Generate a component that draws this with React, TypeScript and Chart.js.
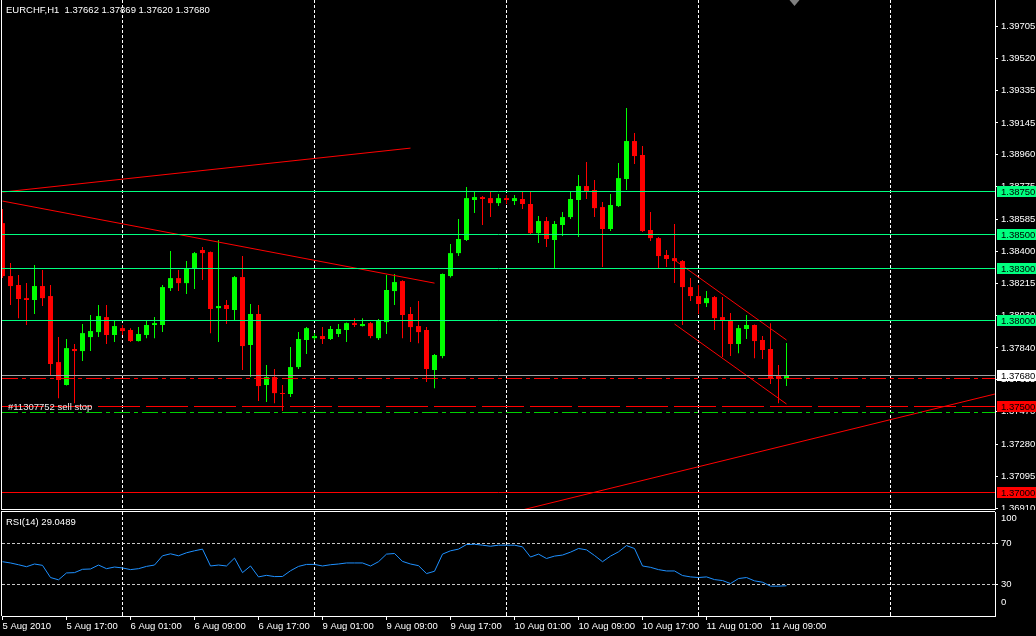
import React, { useEffect, useRef } from "react";
import { Chart, registerables } from "chart.js";

Chart.register(...registerables);

// ---------------- data ----------------
const symbol = "EURCHF";
const timeframe = "H1";

const opens = [
  1.38564, 1.38257, 1.38205, 1.38129, 1.38118, 1.38199, 1.38141, 1.37758, 1.37625, 1.37834,
  1.37822, 1.37903, 1.37932, 1.38019, 1.37915, 1.37955, 1.37944, 1.3788, 1.37915, 1.37973,
  1.37973, 1.38187, 1.38245, 1.38216, 1.38303, 1.38408, 1.38396, 1.38071, 1.38089, 1.3806,
  1.38251, 1.37857, 1.38037, 1.37625, 1.37671, 1.37578, 1.37573, 1.37729, 1.37886, 1.37897,
  1.37909, 1.37892, 1.37921, 1.37944, 1.37984, 1.37967, 1.37984, 1.37897, 1.3799, 1.3817,
  1.38228, 1.38037, 1.37967, 1.37944, 1.37712, 1.37793, 1.38257, 1.3839, 1.38466, 1.38698,
  1.38715, 1.38709, 1.3868, 1.38709, 1.38692, 1.38704, 1.38675, 1.38506, 1.38576, 1.38466,
  1.38553, 1.38599, 1.38698, 1.38779, 1.38756, 1.38657, 1.3853, 1.38663, 1.3882, 1.3904,
  1.38959, 1.38524, 1.38477, 1.38379, 1.38361, 1.38344, 1.38193, 1.38141, 1.381, 1.38135,
  1.38019, 1.37996, 1.37863, 1.3795, 1.37973, 1.37886, 1.37834, 1.37677, 1.37662,
];
const highs = [
  1.38646, 1.38332, 1.38263, 1.38216, 1.38321, 1.38292, 1.38205, 1.37903, 1.37892, 1.37863,
  1.37979, 1.38031, 1.38089, 1.38089, 1.37996, 1.37973, 1.37955, 1.37961, 1.37996, 1.38019,
  1.38205, 1.38402, 1.38292, 1.38344, 1.38396, 1.38425, 1.384, 1.38466, 1.38118, 1.38257,
  1.38373, 1.38095, 1.38089, 1.37741, 1.37718, 1.37625, 1.37845, 1.37932, 1.37961, 1.37926,
  1.37961, 1.37967, 1.37979, 1.37987, 1.38013, 1.38013, 1.3799, 1.38008, 1.38263, 1.38269,
  1.38232, 1.38077, 1.38112, 1.37961, 1.37805, 1.38272, 1.38443, 1.38588, 1.38773, 1.38744,
  1.38721, 1.38744, 1.38733, 1.38727, 1.38727, 1.38744, 1.38744, 1.38605, 1.38599, 1.38576,
  1.38628, 1.38744, 1.38843, 1.38918, 1.38814, 1.38686, 1.38733, 1.38912, 1.39231, 1.39086,
  1.39011, 1.38628, 1.38483, 1.38408, 1.38559, 1.3835, 1.38245, 1.38205, 1.3817, 1.38141,
  1.38135, 1.38042, 1.37973, 1.38031, 1.37976, 1.37909, 1.37984, 1.37741, 1.37869,
];
const lows = [
  1.38245, 1.38089, 1.38013, 1.37973, 1.38037, 1.38083, 1.37683, 1.37549, 1.37622, 1.3752,
  1.37764, 1.37822, 1.37903, 1.37863, 1.37874, 1.37915, 1.37874, 1.37877, 1.37897, 1.37897,
  1.37932, 1.3817, 1.3817, 1.38153, 1.38182, 1.38234, 1.37926, 1.37874, 1.37979, 1.38002,
  1.37712, 1.37671, 1.37532, 1.37526, 1.3752, 1.37474, 1.37555, 1.37718, 1.37805, 1.37886,
  1.37863, 1.37886, 1.37903, 1.37874, 1.37961, 1.37964, 1.37897, 1.37886, 1.37921, 1.38089,
  1.37897, 1.37874, 1.37868, 1.37642, 1.37607, 1.37781, 1.38248, 1.38373, 1.3846, 1.38622,
  1.38553, 1.38599, 1.38663, 1.38675, 1.38669, 1.38646, 1.38501, 1.38448, 1.38425, 1.38303,
  1.38489, 1.38588, 1.38483, 1.38704, 1.38599, 1.38309, 1.38518, 1.38657, 1.38756, 1.38907,
  1.38512, 1.3846, 1.38303, 1.38309, 1.38216, 1.37973, 1.38112, 1.38037, 1.38077, 1.37944,
  1.37787, 1.37793, 1.3781, 1.37892, 1.37781, 1.37776, 1.37631, 1.3752, 1.3762,
];
const closes = [
  1.38257, 1.38199, 1.38124, 1.38118, 1.38199, 1.38129, 1.37747, 1.37654, 1.37839, 1.37822,
  1.37926, 1.37938, 1.38025, 1.37915, 1.37967, 1.37938, 1.3788, 1.37921, 1.37973, 1.37984,
  1.38193, 1.38245, 1.38216, 1.38298, 1.3839, 1.3839, 1.38066, 1.38083, 1.38066, 1.38251,
  1.37851, 1.38037, 1.37619, 1.37671, 1.37578, 1.37573, 1.37729, 1.37892, 1.37955, 1.37909,
  1.37892, 1.3795, 1.3795, 1.37984, 1.37973, 1.37979, 1.37909, 1.38002, 1.38176, 1.38222,
  1.38031, 1.37961, 1.37932, 1.37718, 1.37799, 1.38269, 1.3839, 1.38472, 1.38709, 1.38715,
  1.38704, 1.3868, 1.38709, 1.38698, 1.38709, 1.38675, 1.38506, 1.38576, 1.38472, 1.38559,
  1.38599, 1.38704, 1.38779, 1.3875, 1.38651, 1.3853, 1.38669, 1.38825, 1.3904, 1.38953,
  1.38518, 1.38477, 1.38373, 1.38356, 1.38344, 1.38193, 1.38141, 1.38095, 1.38129, 1.38013,
  1.38002, 1.37863, 1.37955, 1.37973, 1.3788, 1.37828, 1.37665, 1.3766, 1.3768,
];

const rsiValues = [
  52.2, 51.0, 49.3, 47.4, 50.0, 48.7, 37.0, 34.8, 41.4, 41.7,
  44.9, 45.2, 49.0, 45.5, 47.1, 46.2, 44.6, 45.5, 47.7, 49.0,
  57.9, 59.8, 57.9, 60.8, 62.7, 64.3, 48.1, 49.0, 48.1, 55.7,
  41.7, 48.1, 37.6, 39.1, 37.9, 38.0, 43.5, 47.7, 49.6, 49.6,
  48.1, 49.3, 50.0, 51.0, 51.0, 51.0, 48.1, 52.2, 59.5, 60.1,
  52.5, 50.0, 48.4, 40.8, 43.0, 59.5, 62.7, 64.3, 68.7, 69.0,
  68.1, 67.1, 68.1, 68.1, 68.1, 66.5, 56.7, 59.5, 55.3, 57.6,
  58.6, 61.4, 64.9, 63.6, 58.2, 52.2, 57.6, 61.7, 67.7, 64.9,
  48.1, 46.8, 44.6, 43.3, 43.3, 38.9, 37.6, 37.0, 37.6, 35.0,
  34.1, 31.2, 36.0, 37.0, 33.8, 32.5, 28.7, 28.7, 29.0489,
];
const rsiPeriod = 14;
const rsiLevels = [70, 30];
const rsiEdgeLabels = [100, 0];

const timeLabels = [
  "5 Aug 2010", "5 Aug 17:00", "6 Aug 01:00", "6 Aug 09:00", "6 Aug 17:00",
  "9 Aug 01:00", "9 Aug 09:00", "9 Aug 17:00", "10 Aug 01:00", "10 Aug 09:00",
  "10 Aug 17:00", "11 Aug 01:00", "11 Aug 09:00",
];
const timeLabelBars = [0, 8, 16, 24, 32, 40, 48, 56, 64, 72, 80, 88, 96];
const dayBoundaries = [15, 39, 63, 87, 111];

const priceTicks = [
  1.39705, 1.3952, 1.39335, 1.39145, 1.3896, 1.38775, 1.38585, 1.384,
  1.38215, 1.3803, 1.3784, 1.37655, 1.3747, 1.3728, 1.37095, 1.3691,
];
const priceMin = 1.36906;
const priceMax = 1.39858;
const barMin = -0.0625;
const barMax = 124.0625;

const greenLevels = [1.3875, 1.385, 1.383, 1.38];
const bidPrice = 1.3768;
const sellStopPrice = 1.375;
const redLevelPrice = 1.37;
const redDashDotPrice = 1.37665;
const greenDashDotPrice = 1.37468;
const sellStopText = "#11307752 sell stop";

// [barFrom, priceFrom, barTo, priceTo]
const trendLines = [
  [0, 1.38744, 51, 1.38999],
  [0, 1.38692, 54, 1.38216],
  [84, 1.3835, 98, 1.37886],
  [84, 1.37979, 98, 1.37515],
  [60, 1.36844, 126, 1.37595],
];

// ---------------- styling ----------------
const FONT_FAMILY = '"Liberation Sans", Arial, sans-serif';
const FONT_SIZE = 9.5;
const FONT = `${FONT_SIZE}px ${FONT_FAMILY}`;
const BULL = "#00ff00";
const BEAR = "#ff0000";
const LEVEL_GREEN = "#00ff7f";
const AXIS_W = 41;

const snap = (v: number) => Math.round(v - 0.5) + 0.5;

const noPad = (s: any) => {
  s.paddingTop = 0;
  s.paddingBottom = 0;
  s.paddingLeft = 0;
  s.paddingRight = 0;
};

function drawDayGrid(chart: any) {
  const { ctx, chartArea: a, scales } = chart;
  ctx.save();
  ctx.strokeStyle = "#ffffff";
  ctx.lineWidth = 1;
  ctx.setLineDash([3, 2]);
  for (const b of dayBoundaries) {
    const px = snap(scales.x.getPixelForValue(b));
    if (px < a.left || px > a.right) continue;
    ctx.beginPath();
    ctx.moveTo(px, a.top);
    ctx.lineTo(px, a.bottom);
    ctx.stroke();
  }
  ctx.restore();
}

function hLine(chart: any, value: number, color: string, dash: number[]) {
  const { ctx, chartArea: a, scales } = chart;
  const py = snap(scales.y.getPixelForValue(value));
  ctx.save();
  ctx.beginPath();
  ctx.rect(a.left, a.top, a.right - a.left, a.bottom - a.top);
  ctx.clip();
  ctx.strokeStyle = color;
  ctx.lineWidth = 1;
  ctx.setLineDash(dash);
  ctx.beginPath();
  ctx.moveTo(a.left, py);
  ctx.lineTo(a.right, py);
  ctx.stroke();
  ctx.restore();
}

function priceBox(chart: any, price: number, bg: string) {
  const { ctx, chartArea: a, scales, width } = chart;
  const row = Math.round(scales.y.getPixelForValue(price) - 0.5);
  ctx.save();
  ctx.fillStyle = bg;
  ctx.fillRect(a.right + 2, row - 5, width - a.right - 2, 11);
  ctx.fillStyle = "#000000";
  ctx.font = FONT;
  ctx.textBaseline = "middle";
  ctx.textAlign = "left";
  ctx.fillText(price.toFixed(5), a.right + 6, row + 1);
  ctx.restore();
}

const mainPlugin = {
  id: "mt4main",
  beforeDatasetsDraw(chart: any) {
    drawDayGrid(chart);
  },
  afterDatasetsDraw(chart: any) {
    greenLevels.forEach((p) => hLine(chart, p, LEVEL_GREEN, []));
    hLine(chart, redLevelPrice, BEAR, []);
    hLine(chart, bidPrice, "#a0a0a0", []);
    hLine(chart, redDashDotPrice, BEAR, [16, 4, 4, 4]);
    hLine(chart, sellStopPrice, BEAR, [42, 6]);
    hLine(chart, greenDashDotPrice, "#00d000", [16, 4, 4, 4]);
  },
  afterDraw(chart: any) {
    const { ctx, chartArea: a, scales } = chart;
    ctx.save();
    ctx.strokeStyle = "#ffffff";
    ctx.lineWidth = 1;
    ctx.setLineDash([]);
    ctx.beginPath();
    ctx.moveTo(a.left - 0.5, 0);
    ctx.lineTo(a.left - 0.5, a.bottom + 1);
    ctx.moveTo(a.left - 1, a.bottom + 0.5);
    ctx.lineTo(a.right, a.bottom + 0.5);
    ctx.stroke();
    greenLevels.forEach((p) => priceBox(chart, p, LEVEL_GREEN));
    priceBox(chart, bidPrice, "#ffffff");
    priceBox(chart, sellStopPrice, BEAR);
    priceBox(chart, redLevelPrice, BEAR);
    ctx.font = FONT;
    ctx.textAlign = "left";
    ctx.textBaseline = "middle";
    ctx.fillStyle = "#ffffff";
    const last = closes.length - 1;
    const header = `${symbol},${timeframe}  ${opens[last].toFixed(5)} ${highs[last].toFixed(5)} ${lows[last].toFixed(5)} ${closes[last].toFixed(5)}`;
    ctx.fillText(header, a.left + 4, 10);
    ctx.fillStyle = "#e8e8e8";
    const sy = Math.round(scales.y.getPixelForValue(sellStopPrice) - 0.5) + 1;
    ctx.fillText(sellStopText, a.left + 6, sy);
    const sx = scales.x.getPixelForValue(opens.length);
    ctx.fillStyle = "#808080";
    ctx.beginPath();
    ctx.moveTo(sx - 5, 0);
    ctx.lineTo(sx + 5, 0);
    ctx.lineTo(sx, 6);
    ctx.closePath();
    ctx.fill();
    ctx.restore();
  },
};

const rsiPlugin = {
  id: "mt4rsi",
  beforeDatasetsDraw(chart: any) {
    rsiLevels.forEach((v) => hLine(chart, v, "#c8c8c8", [3, 2]));
    drawDayGrid(chart);
  },
  afterDraw(chart: any) {
    const { ctx, chartArea: a, scales } = chart;
    ctx.save();
    ctx.strokeStyle = "#ffffff";
    ctx.lineWidth = 1;
    ctx.beginPath();
    ctx.moveTo(a.left - 0.5, a.top - 1);
    ctx.lineTo(a.left - 0.5, a.bottom);
    ctx.moveTo(a.left - 1, a.top - 0.5);
    ctx.lineTo(a.right, a.top - 0.5);
    ctx.stroke();
    ctx.beginPath();
    for (const b of dayBoundaries) {
      const px = snap(scales.x.getPixelForValue(b));
      ctx.moveTo(px, a.bottom - 3);
      ctx.lineTo(px, a.bottom);
    }
    ctx.stroke();
    ctx.font = FONT;
    ctx.textAlign = "left";
    ctx.textBaseline = "middle";
    ctx.fillStyle = "#ffffff";
    const lastRsi = rsiValues[rsiValues.length - 1];
    ctx.fillText(`RSI(${rsiPeriod}) ${lastRsi.toFixed(4)}`, a.left + 4, a.top + 10);
    ctx.fillText(String(rsiEdgeLabels[0]), a.right + 6, a.top + 6);
    ctx.fillText(String(rsiEdgeLabels[1]), a.right + 6, a.bottom - 14);
    ctx.restore();
  },
};

export default function App() {
  const mainRef = useRef<HTMLCanvasElement | null>(null);
  const rsiRef = useRef<HTMLCanvasElement | null>(null);

  useEffect(() => {
    document.body.style.margin = "0";
    document.body.style.background = "#000";
    const idx = opens.map((_, i) => i);
    const colors = idx.map((i) => (closes[i] >= opens[i] ? BULL : BEAR));

    const lineSets = trendLines.map(([b0, p0, b1, p1]) => ({
      type: "line",
      data: [
        { x: b0, y: p0 },
        { x: b1, y: p1 },
      ],
      borderColor: BEAR,
      borderWidth: 1,
      pointRadius: 0,
      fill: false,
      tension: 0,
    }));

    const main = new Chart(mainRef.current as HTMLCanvasElement, {
      type: "bar",
      data: {
        datasets: [
          ...lineSets,
          {
            type: "bar",
            data: idx.map((i) => ({ x: i, y: [opens[i], closes[i]] })),
            backgroundColor: colors,
            barThickness: 5,
            grouped: false,
            minBarLength: 1,
            borderWidth: 0,
            inflateAmount: 0,
          },
          {
            type: "bar",
            data: idx.map((i) => ({ x: i, y: [lows[i], highs[i]] })),
            backgroundColor: colors,
            barThickness: 1,
            grouped: false,
            minBarLength: 1,
            borderWidth: 0,
            inflateAmount: 0,
          },
        ] as any,
      },
      options: {
        responsive: false,
        animation: false,
        events: [],
        layout: { padding: { left: 2, bottom: 1, top: 0, right: 0 } },
        plugins: { legend: { display: false }, tooltip: { enabled: false } },
        scales: {
          x: { type: "linear", display: false, min: barMin, max: barMax, bounds: "data", offset: false },
          y: {
            type: "linear",
            position: "right",
            min: priceMin,
            max: priceMax,
            bounds: "data",
            afterFit: (s: any) => {
              s.width = AXIS_W;
              noPad(s);
            },
            afterBuildTicks: (s: any) => {
              s.ticks = priceTicks.map((v) => ({ value: v }));
            },
            grid: { drawOnChartArea: false, drawTicks: true, tickLength: 3, color: "#ffffff" },
            border: { display: true, color: "#ffffff" },
            ticks: {
              color: "#ffffff",
              padding: 3,
              autoSkip: false,
              font: { family: FONT_FAMILY, size: FONT_SIZE },
              callback: (v: any) => Number(v).toFixed(5),
            },
          },
        } as any,
      } as any,
      plugins: [mainPlugin],
    });

    const rsi = new Chart(rsiRef.current as HTMLCanvasElement, {
      type: "line",
      data: {
        datasets: [
          {
            data: idx.map((i) => ({ x: i, y: rsiValues[i] })),
            borderColor: "#1e90ff",
            borderWidth: 1,
            pointRadius: 0,
            tension: 0,
            fill: false,
          },
        ],
      },
      options: {
        responsive: false,
        animation: false,
        events: [],
        layout: { padding: { left: 2, top: 2, right: 0, bottom: 0 } },
        plugins: { legend: { display: false }, tooltip: { enabled: false } },
        scales: {
          x: {
            type: "linear",
            position: "bottom",
            min: barMin,
            max: barMax,
            bounds: "data",
            offset: false,
            afterFit: (s: any) => {
              s.height = 20;
              noPad(s);
            },
            afterBuildTicks: (s: any) => {
              s.ticks = timeLabelBars.map((v) => ({ value: v }));
            },
            grid: { drawOnChartArea: false, drawTicks: true, tickLength: 4, color: "#ffffff" },
            border: { display: true, color: "#ffffff" },
            ticks: {
              color: "#ffffff",
              align: "start",
              maxRotation: 0,
              autoSkip: false,
              padding: 1,
              font: { family: FONT_FAMILY, size: FONT_SIZE },
              callback: (v: any) => {
                const k = timeLabelBars.indexOf(Number(v));
                return k >= 0 ? timeLabels[k] : "";
              },
            },
          },
          y: {
            type: "linear",
            position: "right",
            min: 0,
            max: 100,
            bounds: "data",
            afterFit: (s: any) => {
              s.width = AXIS_W;
              noPad(s);
            },
            afterBuildTicks: (s: any) => {
              s.ticks = rsiLevels.map((v) => ({ value: v }));
            },
            grid: { drawOnChartArea: false, drawTicks: true, tickLength: 3, color: "#ffffff" },
            border: { display: true, color: "#ffffff" },
            ticks: {
              color: "#ffffff",
              padding: 3,
              autoSkip: false,
              font: { family: FONT_FAMILY, size: FONT_SIZE },
              callback: (v: any) => String(v),
            },
          },
        } as any,
      } as any,
      plugins: [rsiPlugin],
    });

    return () => {
      main.destroy();
      rsi.destroy();
    };
  }, []);

  return (
    <div style={{ position: "absolute", left: 0, top: 0, width: 1036, height: 636, background: "#000" }}>
      <canvas ref={mainRef} width={1036} height={510} style={{ display: "block" }} />
      <canvas ref={rsiRef} width={1036} height={126} style={{ display: "block" }} />
    </div>
  );
}
